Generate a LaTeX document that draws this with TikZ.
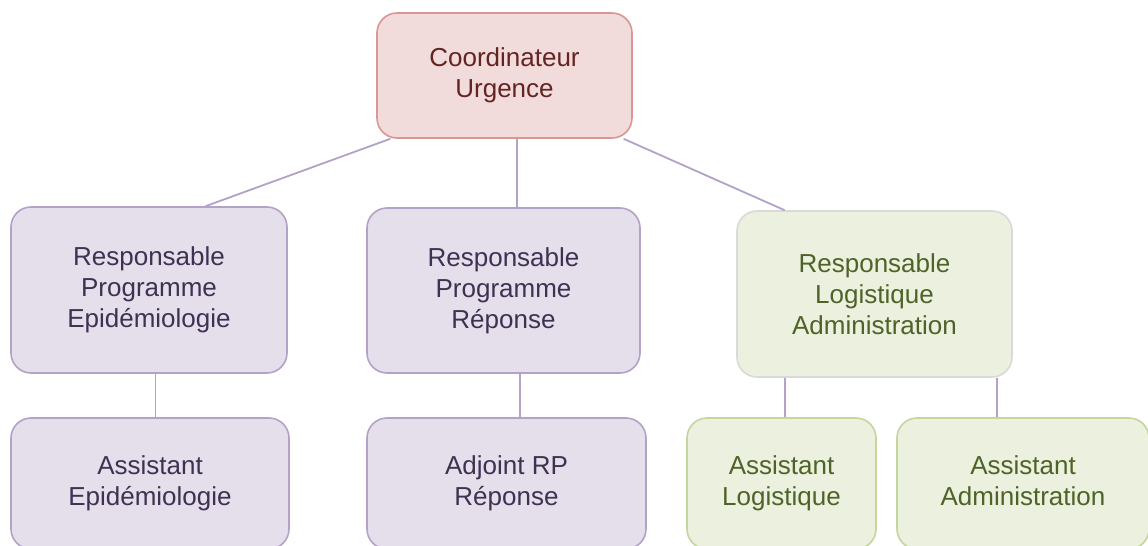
\documentclass[tikz,border=0pt]{standalone}
\usepackage{fontspec}
\setmainfont{Liberation Sans}
\usetikzlibrary{calc}

\definecolor{redfill}{HTML}{F2DCDB}
\definecolor{redline}{HTML}{D99694}
\definecolor{redtext}{HTML}{632423}
\definecolor{purplefill}{HTML}{E5DFEC}
\definecolor{purpleline}{HTML}{B2A2C7}
\definecolor{purpletext}{HTML}{3F3151}
\definecolor{greenfill}{HTML}{EBF1DE}
\definecolor{greenline}{HTML}{C3D69B}
\definecolor{greytline}{HTML}{D9D9D9}
\definecolor{greentext}{HTML}{4F6228}

\tikzset{
  box/.style={draw, rounded corners=10pt, line width=0.8pt, align=center, inner sep=0pt,
              font=\fontsize{13}{15.5}\selectfont},
  redbox/.style={box, draw=redline, fill=redfill, text=redtext},
  purplebox/.style={box, draw=purpleline, fill=purplefill, text=purpletext},
  greenbox/.style={box, draw=greenline, fill=greenfill, text=greentext},
  link/.style={draw=purpleline, line width=0.9pt}
}

\begin{document}
\begin{tikzpicture}[x=0.5pt, y=-0.5pt]
                \useasboundingbox (0,0) rectangle (1148,546);
                \clip (0,0) rectangle (1148,546);

                % Top:
                \node[redbox, minimum width=127.5pt, minimum height=62.5pt] (coord) at (504.5,75.5)
                    {Coordinateur\\Urgence};

                % Responsables:
                \node[purplebox, minimum width=138pt, minimum height=83pt] (rpe) at (149,290)
                    {Responsable\\Programme\\Epidémiologie};
                \node[purplebox, minimum width=136.5pt, minimum height=82.5pt] (rpr) at (503.5,290.5)
                    {Responsable\\Programme\\Réponse};
                \node[greenbox, draw=greytline, minimum width=137.5pt, minimum height=83pt] (rla) at (874.5,294)
                    {Responsable\\Logistique\\Administration};

                % Assistants:
                \node[purplebox, minimum width=139pt, minimum height=65.5pt] (ae) at (150,483.5)
                    {Assistant\\Epidémiologie};
                \node[purplebox, minimum width=139.5pt, minimum height=65.5pt] (adj) at (506.5,483.5)
                    {Adjoint RP\\Réponse};
                \node[greenbox, minimum width=94.5pt, minimum height=65.5pt] (alog) at (781.5,483.5)
                    {Assistant\\Logistique};
                \node[greenbox, minimum width=126pt, minimum height=65.5pt] (aadm) at (1023,483.5)
                    {Assistant\\Administration\vphantom{q}};

                % Links:
                \coordinate (c1) at ($(coord.south)+(12.5,0)$);
                \coordinate (e1) at ($(rpe.south)+(6.5,0)$);
                \coordinate (r1) at ($(rpr.south)+(16.5,0)$);
                \coordinate (l1) at ($(rla.south)+(-89.5,0)$);
                \coordinate (l2) at ($(rla.south)+(122.5,0)$);

                \draw[link] (coord.209) -- (rpe.56);
                \draw[link] (c1) -- (c1 |- rpr.north);
                \draw[link] (coord.-28) -- (rla.137);
                \draw[link] (e1) -- (e1 |- ae.north);
                \draw[link] (r1) -- (r1 |- adj.north);
                \draw[link] (l1) -- (l1 |- alog.north);
                \draw[link] (l2) -- (l2 |- aadm.north);
            \end{tikzpicture}
\end{document}
